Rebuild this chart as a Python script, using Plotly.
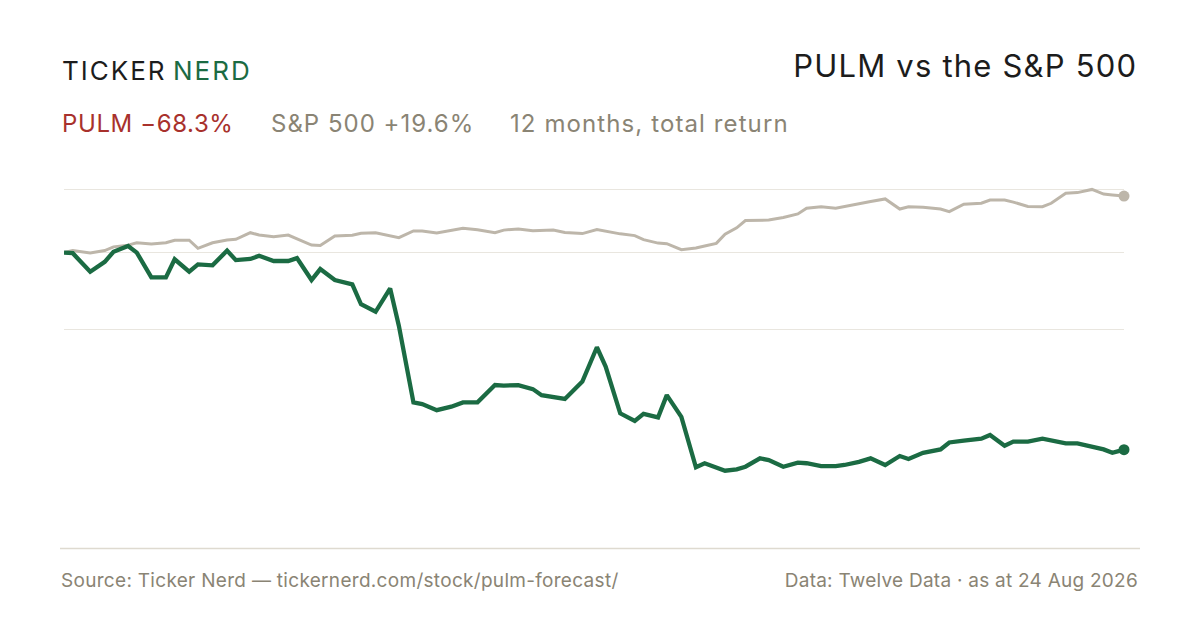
import json
import pandas as pd
import plotly.graph_objects as go

# ---------------- data ----------------
start_date = "2025-08-25"
day_offsets = [0, 3, 9, 14, 17, 22, 25, 30, 35, 38, 43, 46, 51, 56, 59, 64, 67, 72, 77, 80,
               85, 88, 93, 99, 102, 107, 112, 115, 120, 123, 128, 133, 137, 142, 148, 151, 156, 161, 164, 168,
               172, 178, 183, 186, 191, 196, 199, 204, 207, 212, 217, 220, 224, 227, 231, 234, 239, 242, 247, 252,
               255, 260, 265, 268, 273, 277, 282, 287, 290, 295, 301, 304, 309, 315, 318, 323, 326, 331, 336, 339,
               344, 348, 353, 357, 360, 364]

pulm_values = [100.0, 99.8, 93.4, 96.8, 100.3, 102.3, 100.0, 91.4, 91.4, 97.7,
               93.4, 95.9, 95.6, 100.7, 97.4, 97.8, 98.9, 97.1, 97.1, 98.1,
               90.5, 94.3, 90.5, 89.0, 82.1, 79.5, 87.6, 74.6, 48.1, 47.5,
               45.4, 46.6, 48.1, 48.1, 54.1, 53.9, 54.1, 52.7, 50.6, 50.1,
               49.3, 55.3, 67.2, 60.5, 44.3, 41.7, 44.1, 42.9, 50.6, 43.1,
               25.6, 27.0, 25.5, 24.4, 24.9, 25.8, 28.7, 28.1, 25.8, 27.2,
               27.0, 26.0, 26.0, 26.4, 27.5, 28.7, 26.4, 29.5, 28.5, 30.6,
               31.8, 34.2, 34.8, 35.5, 36.8, 33.1, 34.5, 34.5, 35.5, 34.8,
               33.9, 33.9, 32.7, 31.8, 30.6, 31.7]

spx_values = [100.0, 100.7, 99.9, 100.7, 102.0, 102.6, 103.4, 103.0, 103.4, 104.3,
              104.3, 101.5, 103.4, 104.4, 104.6, 106.9, 106.1, 105.5, 106.1, 104.7,
              102.6, 102.5, 105.8, 106.0, 106.7, 106.9, 105.8, 105.2, 107.5, 107.5,
              106.8, 107.8, 108.4, 107.9, 106.9, 107.8, 108.2, 107.6, 107.7, 107.8,
              107.0, 106.6, 108.0, 107.4, 106.5, 105.9, 104.5, 103.3, 103.1, 101.0,
              101.6, 102.3, 103.2, 106.4, 108.6, 111.1, 111.1, 111.3, 112.2, 113.4,
              115.4, 115.9, 115.4, 116.0, 117.1, 117.7, 118.6, 115.1, 115.9, 115.7,
              115.1, 114.2, 116.8, 117.1, 118.2, 118.2, 117.5, 116.0, 115.9, 117.1,
              120.6, 120.8, 121.9, 120.3, 120.0, 119.6]

grid_values = [73.2, 100.0, 121.9]

title_text = "PULM vs the S&P 500"
pulm_label = "PULM \u221268.3%"
spx_label = "S&P 500 +19.6%"
period_label = "12 months, total return"
source_text = "Source: Ticker Nerd \u2014 tickernerd.com/stock/pulm-forecast/"
data_text = "Data: Twelve Data \u00b7 as at 24 Aug 2026"

# ---------------- styling ----------------
GREEN = "#1b6b43"
SPX = "#bdb6aa"
RED = "#a8312c"
MUTED = "#8a8474"
DARK = "#1c1c1c"
FONT = "Inter"

dates = pd.Timestamp(start_date) + pd.to_timedelta(day_offsets, unit="D")

W, H = 1200, 630
ML, MR, MT, MB = 64, 76, 160, 90
PW, PH = W - ML - MR, H - MT - MB


def px(x):
    return (x - ML) / PW


def py(y):
    return (H - MB - y) / PH


fig = go.Figure()
fig.add_trace(go.Scatter(x=dates, y=spx_values, mode="lines",
                         line=dict(color=SPX, width=3), hoverinfo="skip", showlegend=False))
fig.add_trace(go.Scatter(x=dates, y=pulm_values, mode="lines",
                         line=dict(color=GREEN, width=4.3), hoverinfo="skip", showlegend=False))
fig.add_trace(go.Scatter(x=[dates[-1]], y=[spx_values[-1]], mode="markers",
                         marker=dict(color=SPX, size=11), cliponaxis=False,
                         hoverinfo="skip", showlegend=False))
fig.add_trace(go.Scatter(x=[dates[-1]], y=[pulm_values[-1]], mode="markers",
                         marker=dict(color=GREEN, size=11), cliponaxis=False,
                         hoverinfo="skip", showlegend=False))

fig.update_layout(
    width=W, height=H,
    margin=dict(l=ML, r=MR, t=MT, b=MB),
    paper_bgcolor="white", plot_bgcolor="white",
    font=dict(family=FONT, color=MUTED),
    hovermode=False,
    xaxis=dict(range=[dates[0], dates[-1]], showgrid=False, zeroline=False,
               showline=False, showticklabels=False, ticks=""),
    yaxis=dict(range=[0.4, 132.1], tickvals=grid_values, showticklabels=False,
               showgrid=True, gridcolor="#e9e6df", gridwidth=1, zeroline=False,
               showline=False, ticks=""),
    shapes=[dict(type="line", xref="paper", yref="paper",
                 x0=px(60), x1=px(1140), y0=py(548.5), y1=py(548.5),
                 line=dict(color="#dedad0", width=1.5))],
)

# (text, x_px, y_px, anchor, size, color, letter-spacing)
labels = [
    ("TICKER", 60, 70.3, "left", 26, DARK, 2.0),
    ("NERD", 170.5, 70.3, "left", 26, GREEN, 2.0),
    (title_text, 1139, 66.0, "right", 31, DARK, 1.2),
    (pulm_label, 60, 123.8, "left", 24, RED, 0.6),
    (spx_label, 269, 123.8, "left", 24, MUTED, 1.0),
    (period_label, 508, 123.8, "left", 24, MUTED, 1.1),
    (source_text, 59, 580.3, "left", 19, MUTED, 0.3),
    (data_text, 1140, 580.3, "right", 19, MUTED, 0.25),
]

ann = []
spacing = {}
for i, (t, x, y, anc, size, col, ls) in enumerate(labels):
    ann.append(dict(text=t, x=px(x), y=py(y), xref="paper", yref="paper",
                    xanchor=anc, yanchor="middle", align=anc, showarrow=False,
                    font=dict(family=FONT, size=size, color=col)))
    spacing[str(i)] = f"{ls}px"
fig.update_layout(annotations=ann)

post = (
    "document.body.style.margin='0';"
    "var sp=" + json.dumps(spacing) + ";"
    "document.querySelectorAll('g.annotation').forEach(function(g){"
    "var k=g.getAttribute('data-index');var t=g.querySelector('text.annotation-text');"
    "if(t&&sp[k]){t.setAttribute('letter-spacing',sp[k]);}});"
)

fig.write_html("out.html", post_script=post,
               config={"displayModeBar": False, "staticPlot": True})
